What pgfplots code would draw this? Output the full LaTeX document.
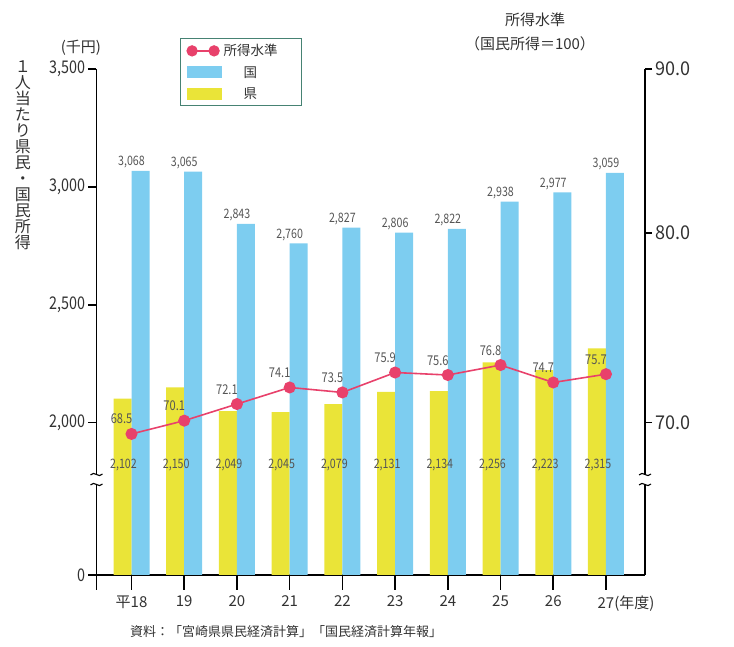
\documentclass[border=0pt]{standalone}
\usepackage{fontspec}
\setmainfont{Noto Sans CJK JP}
\newfontfamily\numfont{Noto Sans CJK JP}[FakeStretch=0.82]
\newfontfamily\rnumfont{Noto Sans CJK JP}[FakeStretch=0.95]
\usepackage{pgfplots}
\usepackage{pgfplotstable}
\pgfplotsset{compat=1.18}
\definecolor{kokublue}{RGB}{125,205,240}
\definecolor{kenyellow}{RGB}{234,228,56}
\definecolor{linered}{RGB}{232,65,107}
\definecolor{txtgray}{RGB}{50,50,50}
\definecolor{lblgray}{RGB}{85,85,85}
\definecolor{legframe}{RGB}{70,130,115}

\pgfplotstableread{
x ken koku level
0 2102 3068 68.5
1 2150 3065 70.1
2 2049 2843 72.1
3 2045 2760 74.1
4 2079 2827 73.5
5 2131 2806 75.9
6 2134 2822 75.6
7 2256 2938 76.8
8 2223 2977 74.7
9 2315 3059 75.7
}\datatable

\begin{document}
\begin{tikzpicture}
\useasboundingbox (-96.5pt,-72pt) rectangle (637.5pt,575pt);
\pgfplotsset{base/.style={scale only axis, width=548.5pt, height=506pt,
  xmin=-0.664, xmax=9.74, ymin=0, ymax=506, at={(0,0)}, anchor=south west,
  /pgf/number format/assume math mode=true}}
% ---------- main axis: data + x axis ----------
\begin{axis}[base,
  axis x line*=bottom, axis y line=none,
  xtick={0,...,9},
  xticklabels={平18,19,20,21,22,23,24,25,26,27\rlap{(年度)}},
  tick align=outside, major tick length=15pt,
  x axis line style={line width=1.6pt,-},
  xtick style={line width=1.6pt,black},
  xticklabel style={font=\fontsize{15}{15}\selectfont, text=txtgray, yshift=-2pt},
  ytick=\empty,
  clip=false,
  legend style={at={(axis description cs:0.1522,1.0613)}, anchor=north west,
    draw=legframe, line width=0.9pt, font=\fontsize{13.5}{13.5}\selectfont,
    text=txtgray, inner xsep=6pt, inner ysep=4pt, row sep=5pt},
  legend cell align=left,
]
% legend
\addlegendimage{legend image code/.code={
  \draw[linered, line width=1.6pt] (0pt,0pt) -- (22pt,0pt);
  \fill[linered] (0pt,0pt) circle (5.2pt);
  \fill[linered] (22pt,0pt) circle (5.2pt);}}
\addlegendentry{\makebox[70pt][l]{所得水準}}
\addlegendimage{legend image code/.code={
  \fill[kokublue] (-5pt,-5.5pt) rectangle (29pt,5.5pt);}}
\addlegendentry{\makebox[70pt][l]{\hspace{20pt}国}}
\addlegendimage{legend image code/.code={
  \fill[kenyellow] (-5pt,-5.5pt) rectangle (29pt,5.5pt);}}
\addlegendentry{\makebox[70pt][l]{\hspace{20pt}県}}

% 県 bars
\addplot[forget plot, ybar, bar width=18pt, bar shift=-9pt, fill=kenyellow, draw=none,
  y filter/.expression={(y-2000)*0.23580+152.3}]
  table[x=x, y=ken]{\datatable};
% 国 bars
\addplot[forget plot, ybar, bar width=18pt, bar shift=9pt, fill=kokublue, draw=none,
  y filter/.expression={(y-2000)*0.23580+152.3},
  point meta=rawy,
  nodes near coords={\numfont\pgfmathprintnumber[fixed, precision=0, 1000 sep={,}, assume math mode=true]{\pgfplotspointmeta}},
  nodes near coords style={font=\fontsize{13}{13}\selectfont, text=lblgray, anchor=south, inner sep=1pt, yshift=1.5pt}]
  table[x=x, y=koku]{\datatable};
% 県 labels (placed at fixed height)
\addplot[forget plot, draw=none, mark=none,
  y filter/.expression={110},
  point meta=rawy,
  nodes near coords={\numfont\pgfmathprintnumber[fixed, precision=0, 1000 sep={,}, assume math mode=true]{\pgfplotspointmeta}},
  nodes near coords style={font=\fontsize{13}{13}\selectfont, text=lblgray, anchor=center, xshift=-8pt}]
  table[x=x, y=ken]{\datatable};
% 所得水準 line
\addplot[forget plot, linered, line width=1.6pt, mark=*, mark size=5.2pt,
  mark options={fill=linered, draw=linered},
  y filter/.expression={(y-70)*8.3+153.5},
  point meta=rawy,
  nodes near coords={\numfont\pgfmathprintnumber[fixed, fixed zerofill, precision=1, assume math mode=true]{\pgfplotspointmeta}},
  nodes near coords style={font=\fontsize{13.5}{13.5}\selectfont, text=lblgray, anchor=south, inner sep=1pt, xshift=-10pt, yshift=8pt}]
  table[x=x, y=level]{\datatable};
\end{axis}
% ---------- left y axis ----------
\begin{axis}[base,
  axis y line*=left, axis x line=none, xtick=\empty,
  ytick={0,152.3,270.2,388.1,506},
  yticklabels={0,{2,000},{2,500},{3,000},{3,500}},
  tick align=outside, major tick length=8pt,
  y axis line style={line width=1.6pt,-},
  ytick style={line width=1.6pt,black},
  yticklabel style={font=\numfont\fontsize{17.5}{17.5}\selectfont, text=txtgray},
]
\end{axis}
% ---------- right y axis ----------
\begin{axis}[base,
  axis y line*=right, axis x line=none, xtick=\empty,
  ytick={152.3,342,506},
  yticklabels={70.0,80.0,90.0},
  tick align=outside, major tick length=7pt,
  y axis line style={line width=1.6pt,-},
  ytick style={line width=1.6pt,black},
  yticklabel style={font=\rnumfont\fontsize{19}{19}\selectfont, text=txtgray},
]
\end{axis}
% axis extension below zero on the left
\draw[line width=1.6pt] (0pt,0pt) -- (0pt,-15pt);
% break marks
\foreach \xx in {0pt,548.5pt}{
  \fill[white] ([xshift=-4pt]\xx,91pt) rectangle ([xshift=4pt]\xx,100pt);
  \draw[line width=1.1pt] ([xshift=-6pt]\xx,100pt) .. controls ([xshift=-2pt]\xx,105pt) and ([xshift=2pt]\xx,96pt) .. ([xshift=6pt]\xx,101pt);
  \draw[line width=1.1pt] ([xshift=-6pt]\xx,90pt) .. controls ([xshift=-2pt]\xx,95pt) and ([xshift=2pt]\xx,86pt) .. ([xshift=6pt]\xx,91pt);
}
% titles
\node[font=\fontsize{15}{15}\selectfont, text=txtgray] at (-15.5pt,527pt) {(千円)};
\node[font=\fontsize{16}{16}\selectfont, text=txtgray, align=center, anchor=north, inner sep=0pt]
  at (-73.5pt,514pt) {１\\人\\当\\た\\り\\県\\民\\・\\国\\民\\所\\得};
\node[font=\fontsize{15}{15}\selectfont, text=txtgray] at (438.5pt,555pt) {所得水準};
\node[font=\fontsize{15}{15}\selectfont, text=txtgray] at (433.5pt,531pt) {（国民所得＝100）};
\node[font=\fontsize{13}{13}\selectfont, text=txtgray, anchor=west, inner sep=0pt] at (33.5pt,-57pt)
  {資料：「宮崎県県民経済計算」「国民経済計算年報」};
\end{tikzpicture}
\end{document}
